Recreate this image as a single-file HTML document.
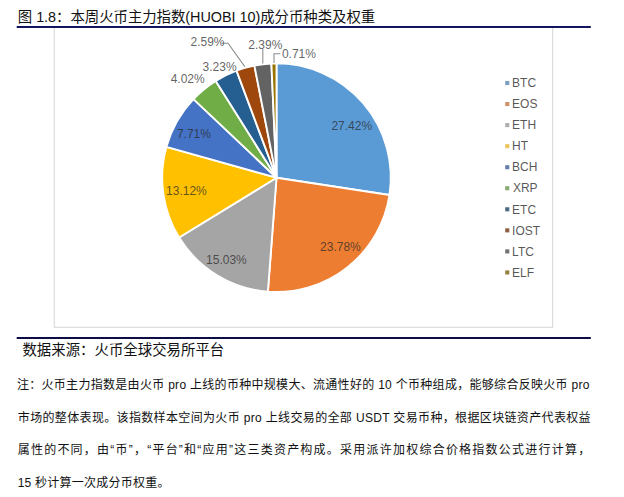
<!DOCTYPE html>
<html lang="zh-CN"><head><meta charset="utf-8"><title>图 1.8</title>
<style>
html,body{margin:0;padding:0;background:#fff}
figure,header,footer,main{margin:0;padding:0}
body{width:624px;height:497px;position:relative;overflow:hidden;font-family:"Liberation Sans",sans-serif}
#art{position:absolute;left:0;top:0;width:624px;height:497px;display:block}
#art text{font-family:"Liberation Sans","Noto Sans CJK SC",sans-serif}
.t{position:absolute;margin:0;padding:0;color:transparent;font-weight:normal;white-space:nowrap;line-height:1.15;font-family:"Liberation Sans",sans-serif}
.note{white-space:normal;text-align:justify}
</style></head>
<body>
<svg id="art" width="624" height="497" viewBox="0 0 624 497">
<rect x="16.7" y="337" width="574.1" height="2" fill="#0d0d45"/>
<rect x="54.3" y="27" width="498.3" height="300.3" fill="#fff" stroke="#dcdcdc" stroke-width="1.2"/>
<rect x="16.7" y="26" width="574.1" height="2" fill="#15155e"/>
<g stroke="#fff" stroke-width="1.9" stroke-linejoin="round"><path d="M276.50 177.70L276.50 63.40A114.30 114.30 0 0 1 389.48 195.01Z" fill="#5b9bd5"/><path d="M276.50 177.70L389.48 195.01A114.30 114.30 0 0 1 267.89 291.68Z" fill="#ed7d31"/><path d="M276.50 177.70L267.89 291.68A114.30 114.30 0 0 1 179.12 237.54Z" fill="#a5a5a5"/><path d="M276.50 177.70L179.12 237.54A114.30 114.30 0 0 1 166.44 146.85Z" fill="#ffc000"/><path d="M276.50 177.70L166.44 146.85A114.30 114.30 0 0 1 193.47 99.14Z" fill="#4472c4"/><path d="M276.50 177.70L193.47 99.14A114.30 114.30 0 0 1 215.74 80.89Z" fill="#70ad47"/><path d="M276.50 177.70L215.74 80.89A114.30 114.30 0 0 1 236.50 70.63Z" fill="#255e91"/><path d="M276.50 177.70L236.50 70.63A114.30 114.30 0 0 1 254.38 65.56Z" fill="#9e480e"/><path d="M276.50 177.70L254.38 65.56A114.30 114.30 0 0 1 271.40 63.51Z" fill="#636363"/><path d="M276.50 177.70L271.40 63.51A114.30 114.30 0 0 1 276.50 63.40Z" fill="#997300"/></g>
<g fill="none" stroke="#8f8f8f" stroke-width="1.1"><path d="M221.5 43.2H228L244.8 66.6"/><path d="M262.8 49V63.5"/><path d="M280.3 53.8H274V63"/></g>
<g fill="#2a2a2a" fill-opacity="0.74" font-size="12">
<text x="331.4" y="129.6">27.42%</text>
<text x="320.1" y="251.3">23.78%</text>
<text x="206.1" y="263.7">15.03%</text>
<text x="166.1" y="195.4">13.12%</text>
<text x="176.9" y="138.4">7.71%</text>
<text x="170.7" y="82.7">4.02%</text>
<text x="202.6" y="70.9">3.23%</text>
<text x="190.5" y="45.9">2.59%</text>
<text x="248.3" y="49.4">2.39%</text>
<text x="281.9" y="57.5">0.71%</text>
</g>
<rect x="505.2" y="80.95" width="4.1" height="4.1" fill="#7096b9" fill-opacity="0.9"/>
<rect x="505.2" y="102.00" width="4.1" height="4.1" fill="#ca8759" fill-opacity="0.9"/>
<rect x="505.2" y="123.05" width="4.1" height="4.1" fill="#a5a5a5" fill-opacity="0.9"/>
<rect x="505.2" y="144.10" width="4.1" height="4.1" fill="#e5bf4c" fill-opacity="0.9"/>
<rect x="505.2" y="165.15" width="4.1" height="4.1" fill="#5570a1" fill-opacity="0.9"/>
<rect x="505.2" y="186.20" width="4.1" height="4.1" fill="#7ca164" fill-opacity="0.9"/>
<rect x="505.2" y="207.25" width="4.1" height="4.1" fill="#375a78" fill-opacity="0.9"/>
<rect x="505.2" y="228.30" width="4.1" height="4.1" fill="#83502d" fill-opacity="0.9"/>
<rect x="505.2" y="249.35" width="4.1" height="4.1" fill="#636363" fill-opacity="0.9"/>
<rect x="505.2" y="270.40" width="4.1" height="4.1" fill="#89722d" fill-opacity="0.9"/>
<g fill="#404040" fill-opacity="0.88" font-size="12">
<text x="512.1" y="87.2">BTC</text>
<text x="512.1" y="108.25">EOS</text>
<text x="512.1" y="129.3">ETH</text>
<text x="512.1" y="150.35">HT</text>
<text x="512.1" y="171.4">BCH</text>
<text x="512.9" y="192.45">XRP</text>
<text x="512.1" y="213.5">ETC</text>
<text x="512.1" y="234.55">IOST</text>
<text x="512.1" y="255.6">LTC</text>
<text x="512.1" y="276.65">ELF</text>
</g>
<text x="17.8" y="21.6" font-size="14.4" fill="#111" textLength="357.4" lengthAdjust="spacing">图 1.8：本周火币主力指数(HUOBI 10)成分币种类及权重</text>
<text x="22.4" y="354.7" font-size="14.4" fill="#111" textLength="201.8" lengthAdjust="spacing">数据来源：火币全球交易所平台</text>
<g fill="#111" font-size="12">
<text x="16.9" y="389.3" textLength="572.6" lengthAdjust="spacing">注：火币主力指数是由火币 pro 上线的币种中规模大、流通性好的 10 个币种组成，能够综合反映火币 pro</text>
<text x="17.8" y="422.1" textLength="572.8" lengthAdjust="spacing">市场的整体表现。该指数样本空间为火币 pro 上线交易的全部 USDT 交易币种，根据区块链资产代表权益</text>
<text x="17.7" y="454.1" textLength="572.5" lengthAdjust="spacing">属性的不同，由“币”，“平台”和“应用”这三类资产构成。采用派许加权综合价格指数公式进行计算，</text>
<text x="17.7" y="486.5" textLength="151.8" lengthAdjust="spacing">15 秒计算一次成分币权重。</text>
</g>
</svg>
<main>
<header class="caption">
<h1 class="t title" style="left:17.5px;top:8.0px;font-size:14.4px;">图 1.8：本周火币主力指数(HUOBI 10)成分币种类及权重</h1>
</header>
<figure class="chart" aria-label="pie chart">
<div class="plot">
<div class="t lbl" style="left:331.4px;top:119.1px;font-size:12.0px;">27.42%</div>
<div class="t lbl" style="left:320.1px;top:240.8px;font-size:12.0px;">23.78%</div>
<div class="t lbl" style="left:206.1px;top:253.2px;font-size:12.0px;">15.03%</div>
<div class="t lbl" style="left:166.1px;top:184.9px;font-size:12.0px;">13.12%</div>
<div class="t lbl" style="left:176.9px;top:127.9px;font-size:12.0px;">7.71%</div>
<div class="t lbl" style="left:170.7px;top:72.2px;font-size:12.0px;">4.02%</div>
<div class="t lbl" style="left:202.6px;top:60.4px;font-size:12.0px;">3.23%</div>
<div class="t lbl" style="left:190.5px;top:35.4px;font-size:12.0px;">2.59%</div>
<div class="t lbl" style="left:248.3px;top:38.9px;font-size:12.0px;">2.39%</div>
<div class="t lbl" style="left:281.9px;top:47.0px;font-size:12.0px;">0.71%</div>
</div>
<div class="legend">
<div class="t leg" style="left:512.1px;top:76.2px;font-size:12.0px;">BTC</div>
<div class="t leg" style="left:512.1px;top:97.3px;font-size:12.0px;">EOS</div>
<div class="t leg" style="left:512.1px;top:118.3px;font-size:12.0px;">ETH</div>
<div class="t leg" style="left:512.1px;top:139.4px;font-size:12.0px;">HT</div>
<div class="t leg" style="left:512.1px;top:160.4px;font-size:12.0px;">BCH</div>
<div class="t leg" style="left:512.9px;top:181.5px;font-size:12.0px;">XRP</div>
<div class="t leg" style="left:512.1px;top:202.6px;font-size:12.0px;">ETC</div>
<div class="t leg" style="left:512.1px;top:223.6px;font-size:12.0px;">IOST</div>
<div class="t leg" style="left:512.1px;top:244.7px;font-size:12.0px;">LTC</div>
<div class="t leg" style="left:512.1px;top:265.7px;font-size:12.0px;">ELF</div>
</div>
</figure>
<footer class="notes">
<p class="t src" style="left:22.4px;top:341.5px;font-size:14.4px;">数据来源：火币全球交易所平台</p>
<p class="t note" style="left:17.6px;top:371.0px;font-size:12.0px;width:573.5px;line-height:32.4px;">注：火币主力指数是由火币 pro 上线的币种中规模大、流通性好的 10 个币种组成，能够综合反映火币 pro 市场的整体表现。该指数样本空间为火币 pro 上线交易的全部 USDT 交易币种，根据区块链资产代表权益属性的不同，由“币”，“平台”和“应用”这三类资产构成。采用派许加权综合价格指数公式进行计算，15 秒计算一次成分币权重。</p>
</footer>
</main>
</body></html>
